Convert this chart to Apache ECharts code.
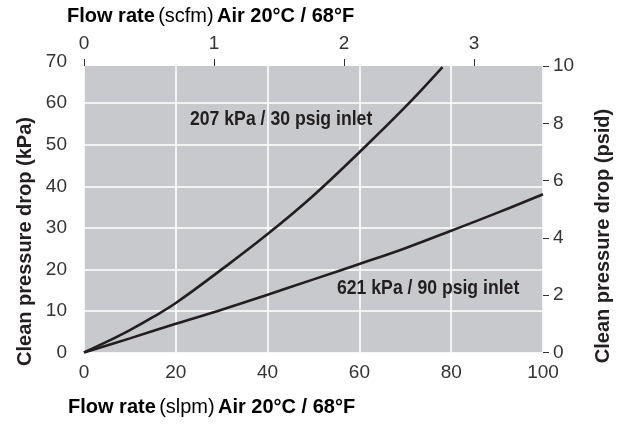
<!DOCTYPE html>
<html>
<head>
<meta charset="utf-8">
<script src="https://cdn.jsdelivr.net/npm/echarts@6/dist/echarts.min.js"></script>
<style>
html,body{margin:0;padding:0;background:#fff;}
#chart{width:622px;height:425px;}
</style>
</head>
<body>
<div id="chart"></div>
<script>
// Flow rate (slpm) and clean pressure drop (kPa)
const slpm207 = [0, 5, 10, 15, 20, 30, 40, 50, 60, 70, 78.1];
const kpa207  = [0, 2.6, 5.4, 8.5, 11.9, 20.0, 28.5, 37.8, 48.2, 59.1, 68.7];
const slpm621 = [0, 10, 20, 30, 40, 50, 60, 70, 80, 90, 100];
const kpa621  = [0, 3.4, 6.9, 10.3, 13.9, 17.6, 21.3, 25.1, 29.3, 33.6, 38.1];
const seriesNames = ['207 kPa / 30 psig inlet', '621 kPa / 90 psig inlet'];
const slpmRange = [0, 100];   // bottom axis, interval 20
const scfmRange = [0, 3];     // top axis ticks, interval 1
const kpaRange = [0, 70];     // left axis, interval 10
const psidRange = [0, 10];    // right axis, interval 2

const SLPM_PER_SCFM = 28.317;
const KPA_PER_PSI = 6.8948;

// layout
const W = 622, H = 425;
const plotLeft = 84, plotRight = 543, plotBottom = 352.5;
const psiTop = 66;
const plotW = plotRight - plotLeft;
const plotH = plotBottom - psiTop;
const kpaTop = plotBottom - plotH * (kpaRange[1] / KPA_PER_PSI) / psidRange[1];
const scfmW = plotW * (scfmRange[1] * SLPM_PER_SCFM) / slpmRange[1];

const numFont = "'Liberation Sans', Arial, sans-serif";
const titleFont = "'Liberation Sans', Arial, sans-serif";
const ink = '#231f20';
const numColor = '#333';

const titleRich = {
  b: {fontFamily: titleFont, fontWeight: 'bold', fontSize: 20, color: ink},
  r: {fontFamily: titleFont, fontWeight: 'normal', fontSize: 20, color: '#333'}
};

const chart = echarts.init(document.getElementById('chart'), null, {renderer: 'canvas'});
chart.setOption({
  animation: false,
  backgroundColor: '#fff',
  grid: [
    {left: plotLeft, right: W - plotRight, top: psiTop, bottom: H - plotBottom, show: true, backgroundColor: '#c7c9cc', borderWidth: 0},
    {left: plotLeft, right: W - plotRight, top: kpaTop, bottom: H - plotBottom},
    {left: plotLeft, width: scfmW, top: psiTop, bottom: H - plotBottom}
  ],
  xAxis: [{
    gridIndex: 0, type: 'value', position: 'bottom', min: slpmRange[0], max: slpmRange[1], interval: 20,
    axisLine: {show: false, onZero: false}, axisTick: {show: false},
    axisLabel: {fontFamily: numFont, fontSize: 19, color: numColor, margin: 11},
    splitLine: {show: true, lineStyle: {color: '#fff', width: 1.6}}
  }, {
    gridIndex: 1, type: 'value', min: slpmRange[0], max: slpmRange[1], show: false,
    axisLine: {onZero: false}
  }, {
    gridIndex: 2, type: 'value', position: 'top', min: scfmRange[0], max: scfmRange[1], interval: 1,
    axisLine: {show: false, onZero: false},
    axisTick: {show: true, length: 7, lineStyle: {color: '#333', width: 1}},
    axisLabel: {fontFamily: numFont, fontSize: 19, color: numColor, margin: 13},
    splitLine: {show: false}
  }],
  yAxis: [{
    gridIndex: 0, type: 'value', position: 'right', min: psidRange[0], max: psidRange[1], interval: 2,
    axisLine: {show: false, onZero: false},
    axisTick: {show: true, length: 6, lineStyle: {color: '#333', width: 1}},
    axisLabel: {fontFamily: numFont, fontSize: 19, color: numColor, margin: 10},
    splitLine: {show: false}
  }, {
    gridIndex: 1, type: 'value', position: 'left', min: kpaRange[0], max: kpaRange[1], interval: 10,
    axisLine: {show: false, onZero: false}, axisTick: {show: false},
    axisLabel: {fontFamily: numFont, fontSize: 19, color: numColor, margin: 17},
    splitLine: {show: true, lineStyle: {color: '#fff', width: 1.6}}
  }, {
    gridIndex: 2, type: 'value', min: 0, max: 1, show: false,
    axisLine: {onZero: false}
  }],
  series: [{
    name: seriesNames[0], type: 'line', xAxisIndex: 1, yAxisIndex: 1,
    data: slpm207.map((x, i) => [x, kpa207[i]]),
    smooth: 0.4, showSymbol: false, symbol: 'none',
    lineStyle: {color: ink, width: 2.6}
  }, {
    name: seriesNames[1], type: 'line', xAxisIndex: 1, yAxisIndex: 1,
    data: slpm621.map((x, i) => [x, kpa621[i]]),
    smooth: 0.4, showSymbol: false, symbol: 'none',
    lineStyle: {color: ink, width: 2.6}
  }],
  graphic: [
    {type: 'text', left: 67, top: 6, style: {text: '{b|Flow rate} {r|(scfm)} {b|Air 20°C / 68°F}', rich: titleRich}},
    {type: 'text', left: 68, top: 397, style: {text: '{b|Flow rate} {r|(slpm)} {b|Air 20°C / 68°F}', rich: titleRich}},
    {type: 'text', x: 25, y: 241.5, rotation: Math.PI / 2,
     style: {text: 'Clean pressure drop (kPa)', align: 'center', verticalAlign: 'middle', fontFamily: titleFont, fontWeight: 'bold', fontSize: 20, fill: ink}},
    {type: 'text', x: 603, y: 236, rotation: Math.PI / 2,
     style: {text: 'Clean pressure drop (psid)', align: 'center', verticalAlign: 'middle', fontFamily: titleFont, fontWeight: 'bold', fontSize: 20, fill: ink}},
    {type: 'text', x: 190, y: 119, z: 10, scaleX: 0.86,
     style: {text: seriesNames[0], align: 'left', verticalAlign: 'middle', fontFamily: titleFont, fontWeight: 'bold', fontSize: 20.5, fill: ink}},
    {type: 'text', x: 337, y: 288.5, z: 10, scaleX: 0.86,
     style: {text: seriesNames[1], align: 'left', verticalAlign: 'middle', fontFamily: titleFont, fontWeight: 'bold', fontSize: 20.5, fill: ink}}
  ]
});
</script>
</body>
</html>
